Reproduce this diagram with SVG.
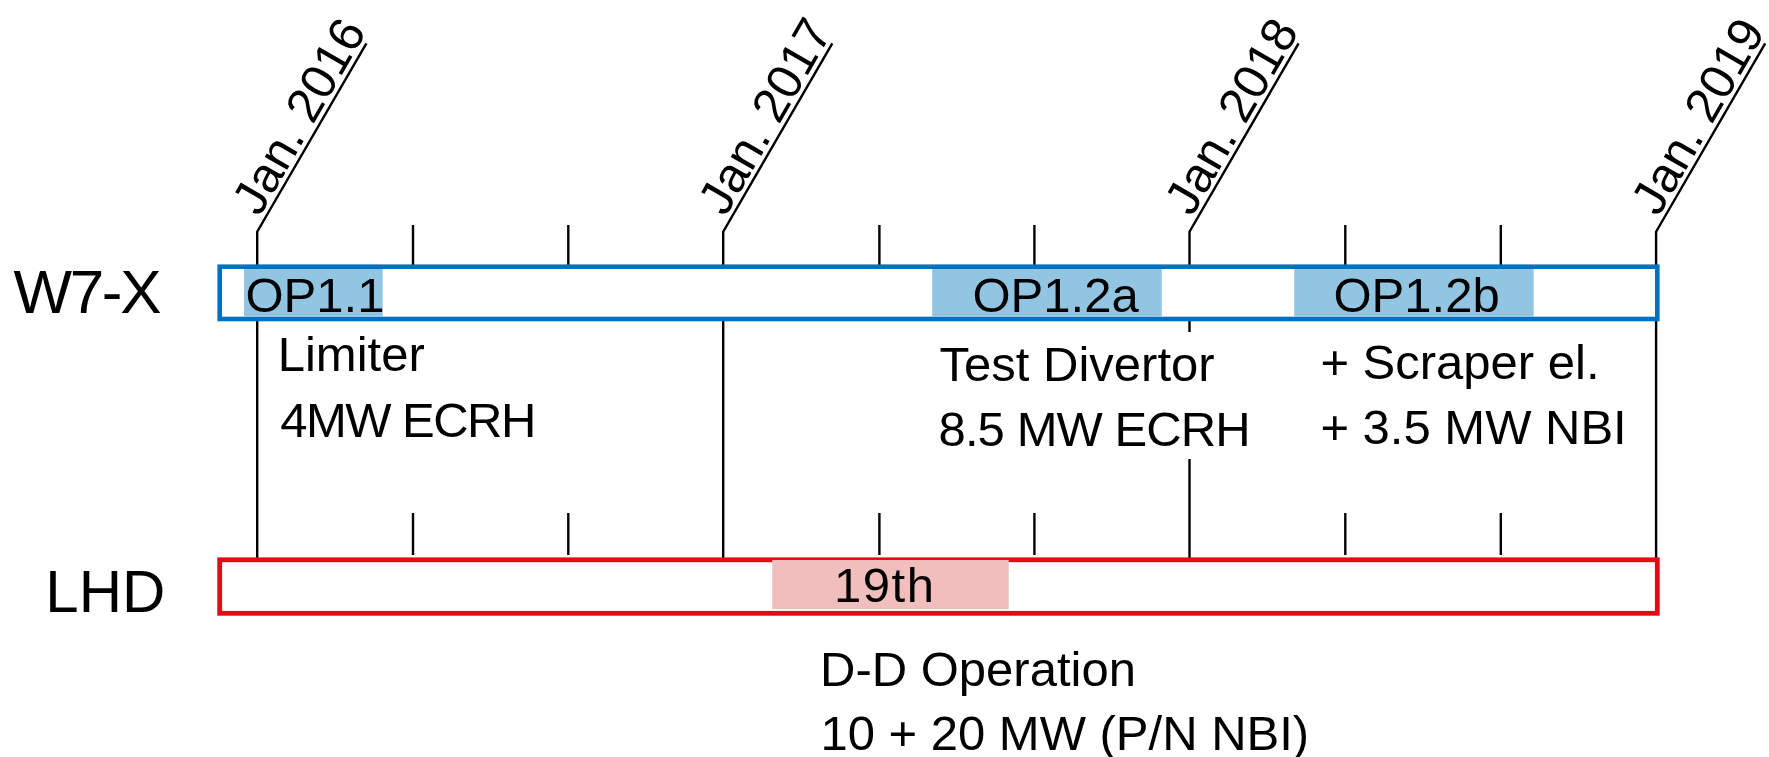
<svg xmlns="http://www.w3.org/2000/svg" width="1769" height="757" viewBox="0 0 1769 757">
<style>
text{font-family:"Liberation Sans",Arial,Helvetica,sans-serif;fill:#000}
.t{font-size:49px}
.big{font-size:62px}
.ln{stroke:#000;stroke-width:2.4;fill:none}
.blue{fill:#fff;stroke:#0070C0;stroke-width:4.6}
.red{fill:#fff;stroke:#E30B17;stroke-width:4.8}
.hb{fill:#92C5E2}
.hr{fill:#F0BEBC}
</style>
<rect width="1769" height="757" fill="#fff"/>
<g id="connectors">
<polyline class="ln" points="366.4,43.3 257.2,231.7 257.2,266"/>
<polyline class="ln" points="832.3,43.3 723.2,231.7 723.2,266"/>
<polyline class="ln" points="1298.6,43.3 1189.5,231.7 1189.5,266"/>
<polyline class="ln" points="1765.2,43.3 1656.1,231.7 1656.1,266"/>
<line class="ln" x1="257.2" y1="321" x2="257.2" y2="558"/>
<line class="ln" x1="723.2" y1="321" x2="723.2" y2="558"/>
<line class="ln" x1="1189.5" y1="321" x2="1189.5" y2="332"/>
<line class="ln" x1="1189.5" y1="459" x2="1189.5" y2="558"/>
<line class="ln" x1="1656.1" y1="321" x2="1656.1" y2="558"/>
<line class="ln" x1="413" y1="225" x2="413" y2="266"/>
<line class="ln" x1="568.3" y1="225" x2="568.3" y2="266"/>
<line class="ln" x1="879.4" y1="225" x2="879.4" y2="266"/>
<line class="ln" x1="1034.4" y1="225" x2="1034.4" y2="266"/>
<line class="ln" x1="1345.3" y1="225" x2="1345.3" y2="266"/>
<line class="ln" x1="1500.8" y1="225" x2="1500.8" y2="266"/>
<line class="ln" x1="413" y1="513" x2="413" y2="555"/>
<line class="ln" x1="568.3" y1="513" x2="568.3" y2="555"/>
<line class="ln" x1="879.4" y1="513" x2="879.4" y2="555"/>
<line class="ln" x1="1034.4" y1="513" x2="1034.4" y2="555"/>
<line class="ln" x1="1345.3" y1="513" x2="1345.3" y2="555"/>
<line class="ln" x1="1500.8" y1="513" x2="1500.8" y2="555"/>
</g>
<g id="dates">
<text class="t" transform="translate(259.6,217.5) rotate(-60)">Jan. 2016</text>
<text class="t" transform="translate(725.6,217.5) rotate(-60)">Jan. 2017</text>
<text class="t" transform="translate(1191.9,217.5) rotate(-60)">Jan. 2018</text>
<text class="t" transform="translate(1658.5,217.5) rotate(-60)">Jan. 2019</text>
</g>
<g id="w7x">
<text class="big" x="13.5" y="313.3" textLength="148" lengthAdjust="spacing">W7-X</text>
<rect class="blue" x="219.7" y="266.7" width="1437.6" height="52.3"/>
</g>
<g id="op11">
<rect class="hb" x="244" y="269" width="138.7" height="47.7"/>
<text class="t" x="245.5" y="311.7">OP1.1</text>
</g>
<g id="op12a">
<rect class="hb" x="932.2" y="269" width="229.6" height="47.7"/>
<text class="t" x="972.5" y="311.7">OP1.2a</text>
</g>
<g id="op12b">
<rect class="hb" x="1294.2" y="269" width="239.5" height="47.7"/>
<text class="t" x="1333.5" y="311.7">OP1.2b</text>
</g>
<g id="op11-notes">
<text class="t" x="277.7" y="370.7">Limiter</text>
<text class="t" x="280.3" y="436.7" textLength="256" lengthAdjust="spacing">4MW ECRH</text>
</g>
<g id="op12a-notes">
<text class="t" x="939.6" y="381">Test Divertor</text>
<text class="t" x="938.6" y="446" textLength="312" lengthAdjust="spacing">8.5 MW ECRH</text>
</g>
<g id="op12b-notes">
<text class="t" x="1320.4" y="379.3">+ Scraper el.</text>
<text class="t" x="1320.4" y="444">+ 3.5 MW NBI</text>
</g>
<g id="lhd">
<text x="45.3" y="611.7" font-size="60">LHD</text>
<rect class="red" x="219.7" y="559.8" width="1437.6" height="53.5"/>
</g>
<g id="lhd19">
<rect class="hr" x="772.2" y="560" width="236.5" height="49"/>
<text class="t" x="834" y="602.3" textLength="100" lengthAdjust="spacing">19th</text>
</g>
<g id="lhd-notes">
<text class="t" x="820" y="685.7">D-D Operation</text>
<text class="t" x="820.4" y="750">10 + 20 MW (P/N NBI)</text>
</g>
</svg>
